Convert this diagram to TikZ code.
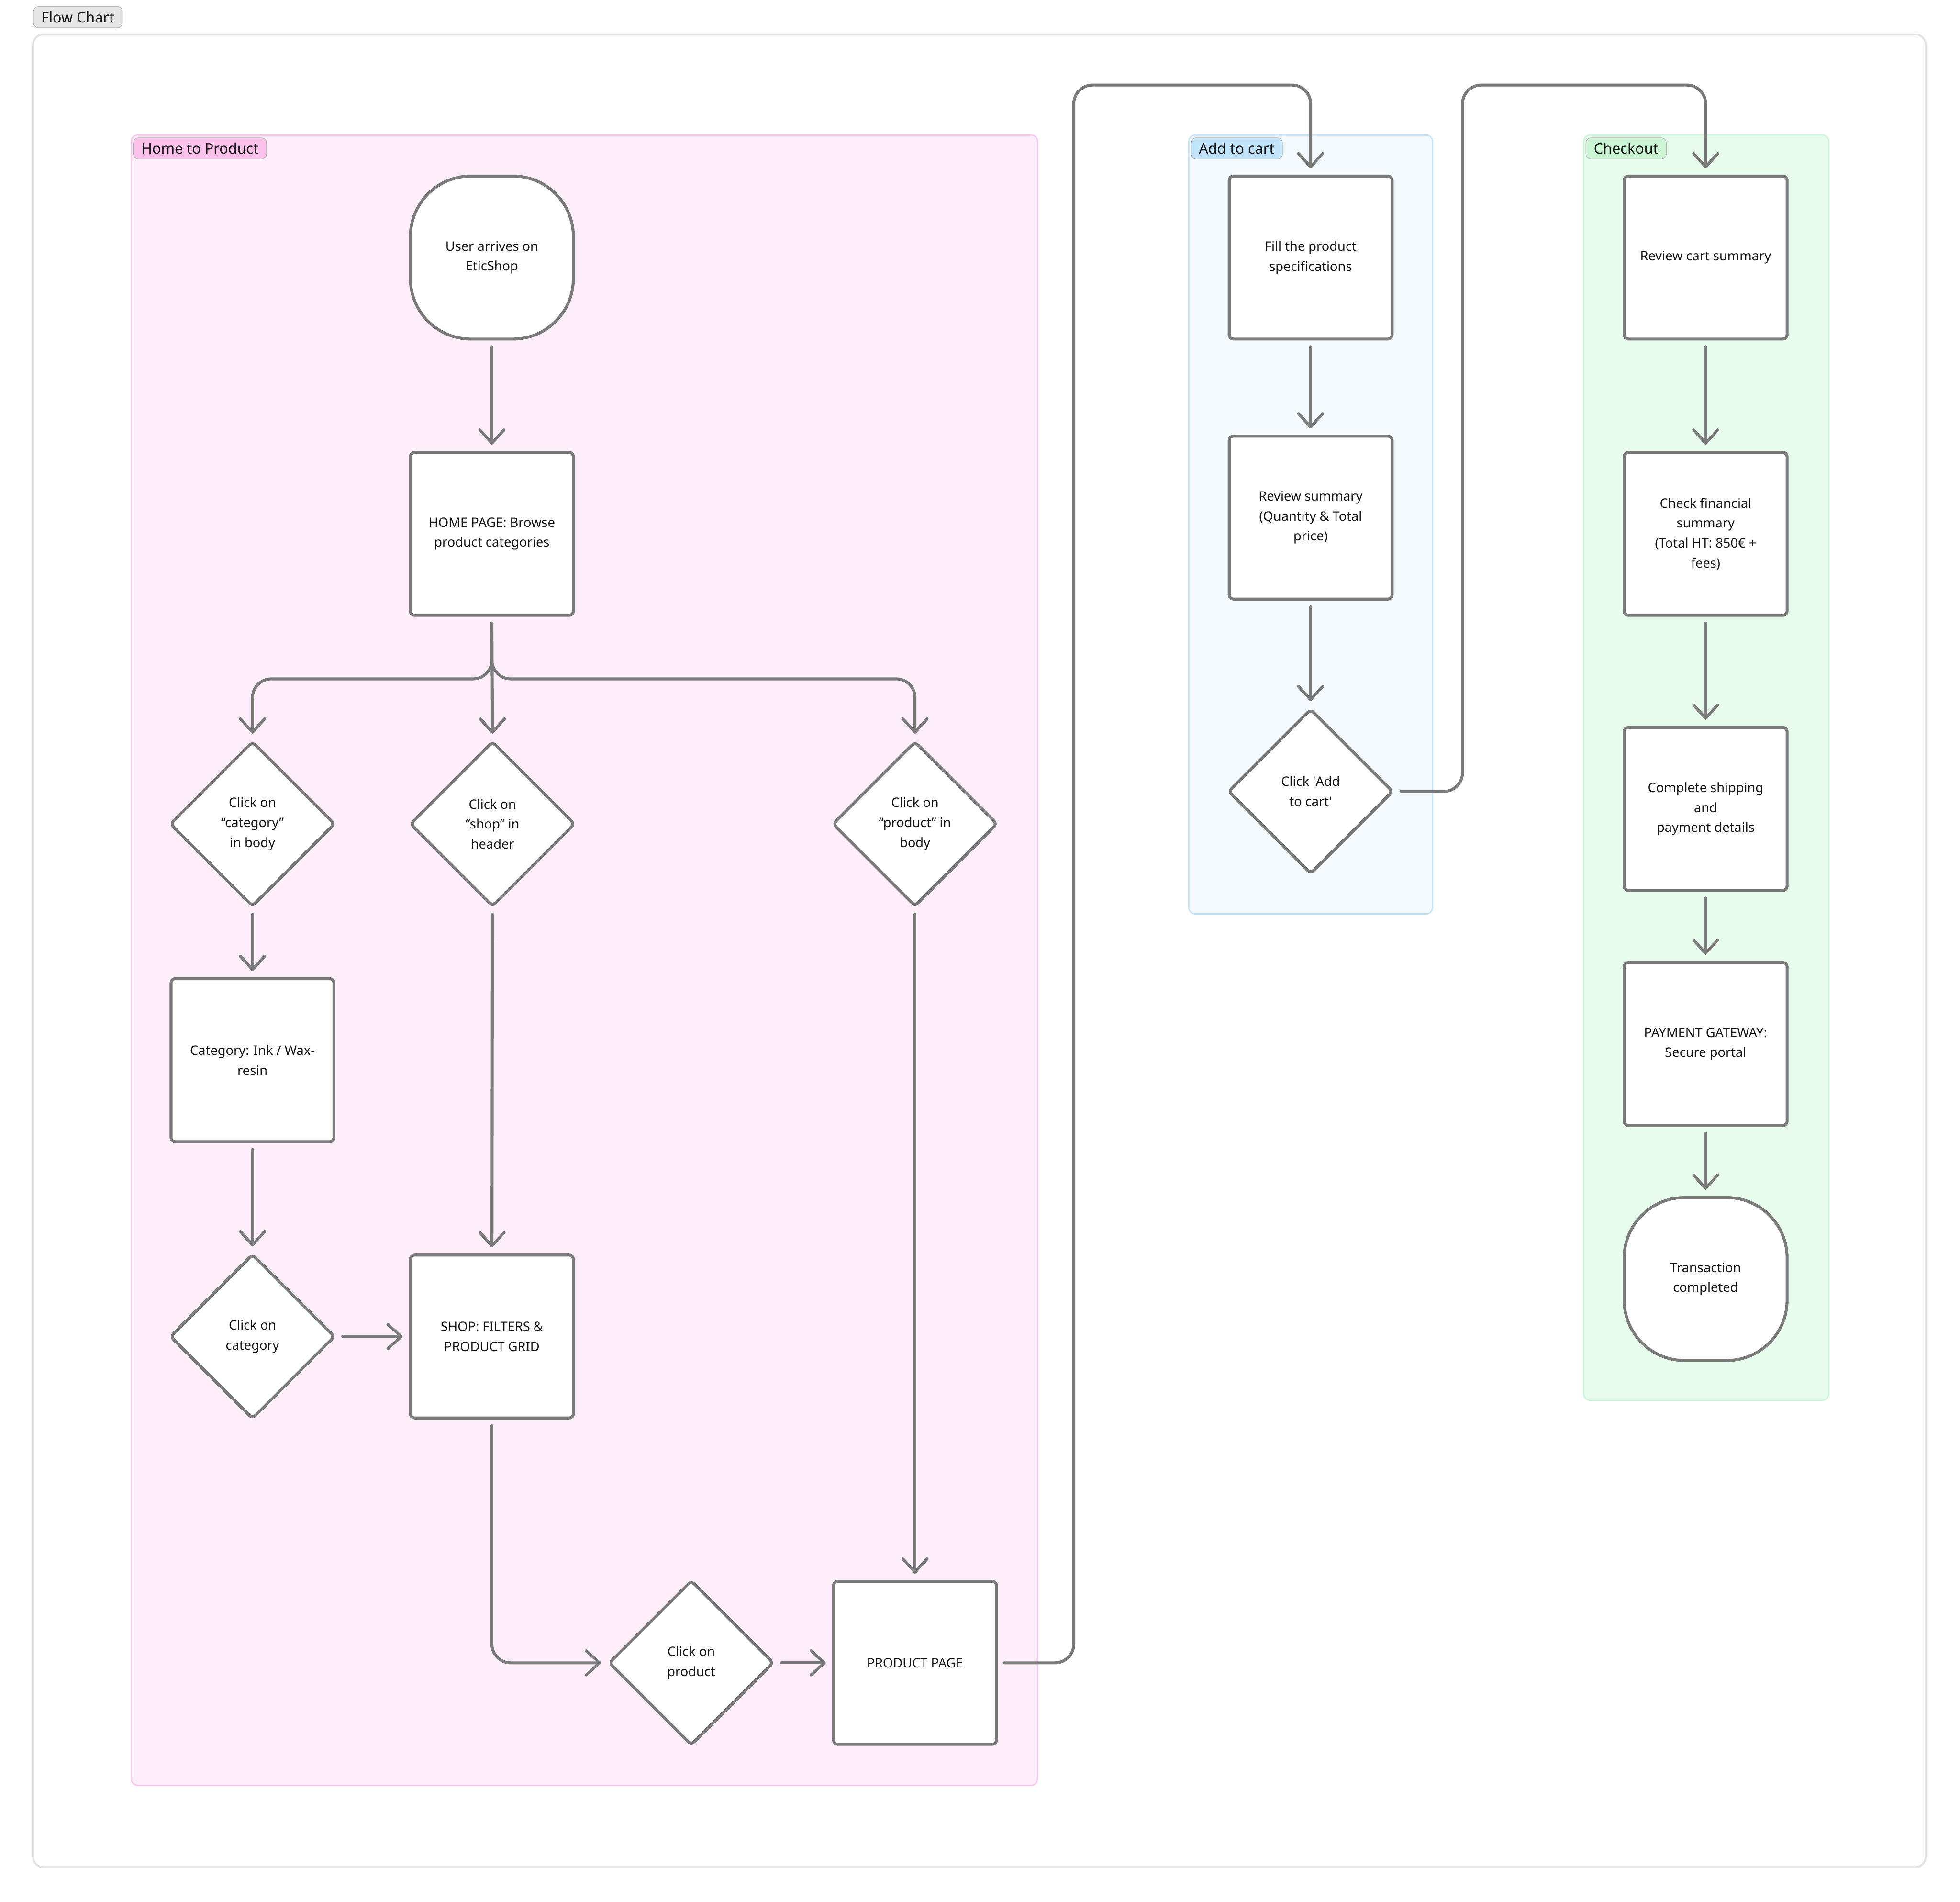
\documentclass[tikz,border=0pt]{standalone}
\usepackage{fontspec}
\setmainfont{Noto Sans}
\usetikzlibrary{arrows.meta,shapes.geometric}

\definecolor{edge}{HTML}{7A7A7A}
\definecolor{txt}{HTML}{141414}
\definecolor{pinkfill}{HTML}{FDEEF9}
\definecolor{pinkline}{HTML}{FBC6EE}
\definecolor{pinktag}{HTML}{FBC2EC}
\definecolor{bluefill}{HTML}{F4F9FE}
\definecolor{blueline}{HTML}{C5E5FB}
\definecolor{bluetag}{HTML}{C2E5FC}
\definecolor{greenfill}{HTML}{E7FCED}
\definecolor{greenline}{HTML}{CDF5D8}
\definecolor{greentag}{HTML}{CBF5D5}
\definecolor{framegray}{HTML}{E3E3E3}
\definecolor{taggray}{HTML}{E6E6E6}
\definecolor{tagline}{HTML}{B4B4B4}

\begin{document}
\begin{tikzpicture}[x=0.3mm,y=-0.3mm,
  nodefont/.style={font=\fontsize{8.9}{13.6}\selectfont, text=txt, align=center},
  procbox/.style={nodefont, draw=edge, fill=white, line width=2pt, rounded corners=1mm,
    minimum width=39.1mm, minimum height=39.1mm, inner sep=0pt},
  termbox/.style={procbox, rounded corners=14.5mm},
  decbox/.style={nodefont, diamond, aspect=1, draw=edge, fill=white, line width=2pt,
    rounded corners=1mm, minimum width=39.6mm, minimum height=39.6mm, inner sep=0pt},
  conn/.style={draw=edge, line width=2pt, line cap=round, rounded corners=4.5mm,
    shorten <=1.5mm, shorten >=1.5mm, -{Straight Barb[length=3.2mm,width=5.8mm,round]}},
  section/.style={line width=0.9pt, rounded corners=1.5mm},
  tag/.style={font=\fontsize{10}{12}\selectfont, text=txt, draw=tagline, line width=0.4pt,
    rounded corners=1.2mm, anchor=north west, inner xsep=1.9mm, inner ysep=0pt,
    minimum height=5.1mm}
]
\useasboundingbox (0,0) rectangle (1568,1521);
\fill[white] (0,0) rectangle (1568,1521);

% outer frame
\draw[framegray, line width=1.3pt, rounded corners=2.5mm] (26.5,27.5) rectangle (1540.5,1493.5);
\node[tag, fill=taggray] (lblflow) at (26.5,5) {Flow Chart};

% sections
\draw[section, fill=pinkfill, draw=pinkline] (105,108) rectangle (830,1428);
\draw[section, fill=bluefill, draw=blueline] (951,108) rectangle (1146,731);
\draw[section, fill=greenfill, draw=greenline] (1267,108) rectangle (1463,1120);
\node[tag, fill=pinktag] (lblhome) at (106.5,110) {Home to Product};
\node[tag, fill=bluetag] (lblcart) at (952.5,110) {Add to cart};
\node[tag, fill=greentag] (lblcheck) at (1268.5,110) {Checkout};

% Home to Product
\node[termbox] (start) at (393.5,206) {User arrives on\\EticShop};
\node[procbox] (home) at (393.5,427) {HOME PAGE: Browse\\product categories};
\node[decbox] (d1) at (202,659) {Click on\\“category”\\in body};
\node[decbox] (d2) at (394,659) {Click on\\“shop” in\\header};
\node[decbox] (d3) at (732,659) {Click on\\“product” in\\body};
\node[procbox] (cat) at (202,848) {Category: Ink / Wax-\\resin};
\node[decbox] (d4) at (202,1069) {Click on\\category};
\node[procbox] (shop) at (393.5,1069) {SHOP: FILTERS \&\\PRODUCT GRID};
\node[decbox] (d5) at (553,1330) {Click on\\product};
\node[procbox] (prod) at (732,1330) {PRODUCT PAGE};

% Add to cart
\node[procbox] (fill) at (1048.5,206) {Fill the product\\specifications};
\node[procbox] (rsum) at (1048.5,414) {Review summary\\(Quantity \& Total\\price)};
\node[decbox] (dadd) at (1048.5,633) {Click \textquotesingle Add\\to cart\textquotesingle};

% Checkout
\node[procbox] (rcs) at (1364.5,206) {Review cart summary};
\node[procbox] (fin) at (1364.5,427) {Check financial\\summary\\(Total HT: 850€ +\\fees)};
\node[procbox] (ship) at (1364.5,647) {Complete shipping\\and\\payment details};
\node[procbox] (pay) at (1364.5,835) {PAYMENT GATEWAY:\\Secure portal};
\node[termbox] (done) at (1364.5,1023) {Transaction\\completed};

% routing points
\coordinate (split) at (393.5,543);
\coordinate (up1) at (859,68);
\coordinate (up2) at (1170,68);

% connectors
\draw[conn] (start) -- (home);
\draw[conn] (home.south) -- (split) -| (d1.north);
\draw[conn] (home.south) -- (d2.north);
\draw[conn] (home.south) -- (split) -| (d3.north);
\draw[conn] (d1) -- (cat);
\draw[conn] (cat) -- (d4);
\draw[conn] (d4) -- (shop);
\draw[conn] (d2) -- (shop);
\draw[conn] (shop.south) |- (d5.west);
\draw[conn] (d5) -- (prod);
\draw[conn] (d3) -- (prod);
\draw[conn] (prod.east) -| (up1) -| (fill.north);
\draw[conn] (fill) -- (rsum);
\draw[conn] (rsum) -- (dadd);
\draw[conn] (dadd.east) -| (up2) -| (rcs.north);
\draw[conn] (rcs) -- (fin);
\draw[conn] (fin) -- (ship);
\draw[conn] (ship) -- (pay);
\draw[conn] (pay) -- (done);
\end{tikzpicture}
\end{document}
